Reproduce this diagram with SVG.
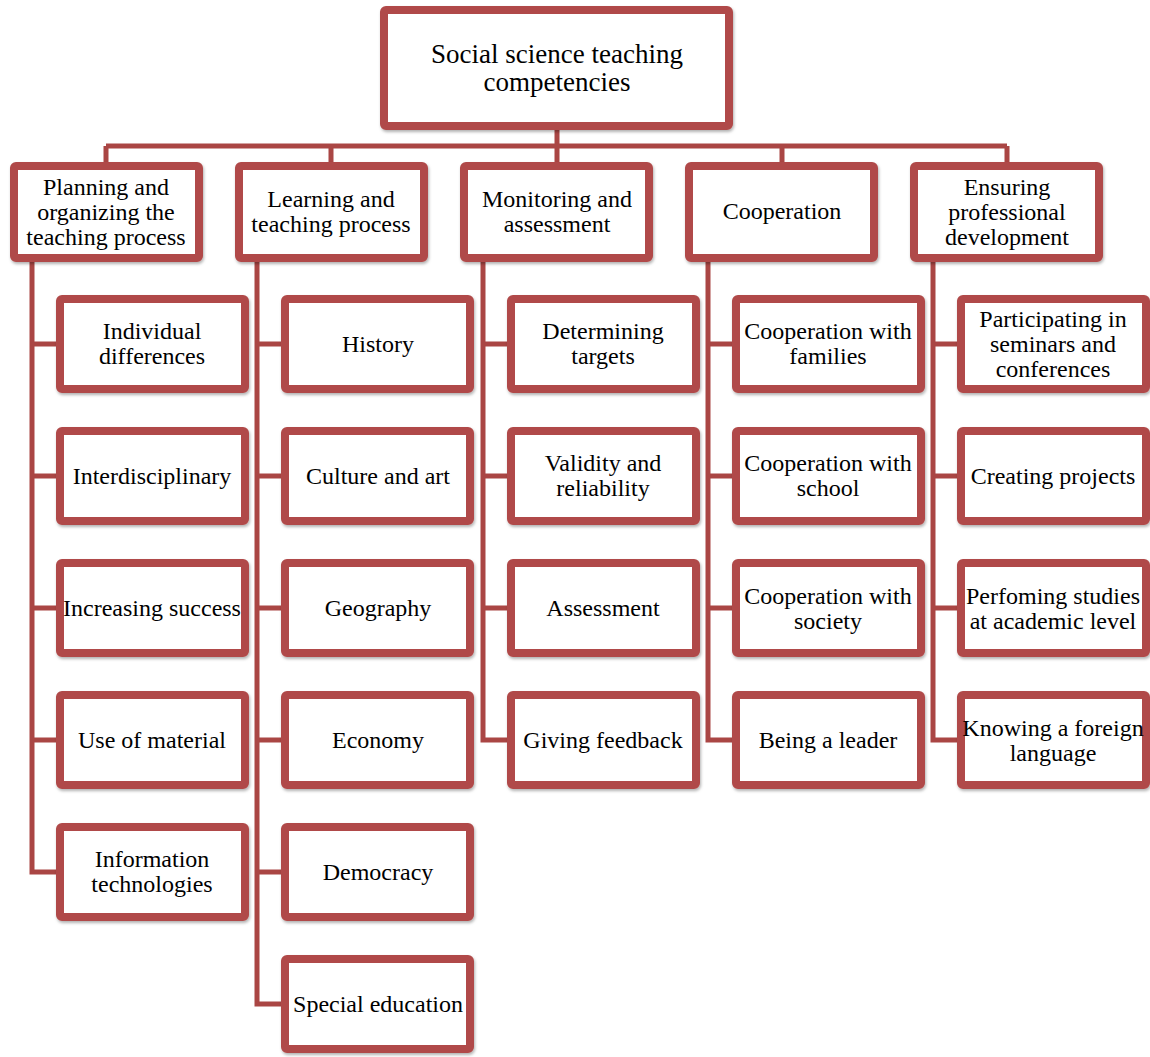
<svg xmlns="http://www.w3.org/2000/svg" width="1150" height="1057" viewBox="0 0 1150 1057">
<style>
.box{fill:#fff;stroke:#B04A48;stroke-width:8;filter:url(#sh)}
.t{font-family:"Liberation Serif","Times New Roman",serif;font-size:24px;fill:#000;text-anchor:middle}
.big{font-size:27px}
.c{fill:none;stroke:#AA4644;stroke-width:5}
</style>
<defs>
<filter id="sh" x="-10%" y="-10%" width="120%" height="130%">
<feDropShadow dx="1" dy="2" stdDeviation="1.5" flood-color="#000" flood-opacity="0.3"/>
</filter>
</defs>
<g id="connectors">
<path class="c" d="M557 130V146M106 146H1007M106 146V162M331 146V162M557 146V162M782 146V162M1007 146V162"/>
<path class="c" d="M32 262V872H56M32 344H56M32 476H56M32 608H56M32 740H56"/>
<path class="c" d="M257 262V1004H281M257 344H281M257 476H281M257 608H281M257 740H281M257 872H281"/>
<path class="c" d="M483 262V740H507M483 344H507M483 476H507M483 608H507"/>
<path class="c" d="M708 262V740H732M708 344H732M708 476H732M708 608H732"/>
<path class="c" d="M933 262V740H957M933 344H957M933 476H957M933 608H957"/>
</g>
<g id="root"><rect class="box" x="384" y="10" width="345" height="116" rx="2"/><text class="t big" x="557" y="63">Social science teaching</text><text class="t big" x="557" y="91">competencies</text></g>
<g id="planning"><rect class="box" x="14" y="166" width="185" height="92" rx="2"/><text class="t" x="106" y="195">Planning and</text><text class="t" x="106" y="220">organizing the</text><text class="t" x="106" y="245">teaching process</text></g>
<g id="learning"><rect class="box" x="239" y="166" width="185" height="92" rx="2"/><text class="t" x="331" y="207">Learning and</text><text class="t" x="331" y="232">teaching process</text></g>
<g id="monitoring"><rect class="box" x="464" y="166" width="185" height="92" rx="2"/><text class="t" x="557" y="207">Monitoring and</text><text class="t" x="557" y="232">assessment</text></g>
<g id="cooperation"><rect class="box" x="689" y="166" width="185" height="92" rx="2"/><text class="t" x="782" y="219">Cooperation</text></g>
<g id="ensuring"><rect class="box" x="914" y="166" width="185" height="92" rx="2"/><text class="t" x="1007" y="195">Ensuring</text><text class="t" x="1007" y="220">professional</text><text class="t" x="1007" y="245">development</text></g>

<g id="p1"><rect class="box" x="60" y="299" width="185" height="90" rx="2"/><text class="t" x="152" y="339">Individual</text><text class="t" x="152" y="364">differences</text></g>
<g id="p2"><rect class="box" x="60" y="431" width="185" height="90" rx="2"/><text class="t" x="152" y="484">Interdisciplinary</text></g>
<g id="p3"><rect class="box" x="60" y="563" width="185" height="90" rx="2"/><text class="t" x="152" y="616">Increasing success</text></g>
<g id="p4"><rect class="box" x="60" y="695" width="185" height="90" rx="2"/><text class="t" x="152" y="748">Use of material</text></g>
<g id="p5"><rect class="box" x="60" y="827" width="185" height="90" rx="2"/><text class="t" x="152" y="867">Information</text><text class="t" x="152" y="892">technologies</text></g>

<g id="l1"><rect class="box" x="285" y="299" width="185" height="90" rx="2"/><text class="t" x="378" y="352">History</text></g>
<g id="l2"><rect class="box" x="285" y="431" width="185" height="90" rx="2"/><text class="t" x="378" y="484">Culture and art</text></g>
<g id="l3"><rect class="box" x="285" y="563" width="185" height="90" rx="2"/><text class="t" x="378" y="616">Geography</text></g>
<g id="l4"><rect class="box" x="285" y="695" width="185" height="90" rx="2"/><text class="t" x="378" y="748">Economy</text></g>
<g id="l5"><rect class="box" x="285" y="827" width="185" height="90" rx="2"/><text class="t" x="378" y="880">Democracy</text></g>
<g id="l6"><rect class="box" x="285" y="959" width="185" height="90" rx="2"/><text class="t" x="378" y="1012">Special education</text></g>

<g id="m1"><rect class="box" x="511" y="299" width="185" height="90" rx="2"/><text class="t" x="603" y="339">Determining</text><text class="t" x="603" y="364">targets</text></g>
<g id="m2"><rect class="box" x="511" y="431" width="185" height="90" rx="2"/><text class="t" x="603" y="471">Validity and</text><text class="t" x="603" y="496">reliability</text></g>
<g id="m3"><rect class="box" x="511" y="563" width="185" height="90" rx="2"/><text class="t" x="603" y="616">Assessment</text></g>
<g id="m4"><rect class="box" x="511" y="695" width="185" height="90" rx="2"/><text class="t" x="603" y="748">Giving feedback</text></g>

<g id="c1"><rect class="box" x="736" y="299" width="185" height="90" rx="2"/><text class="t" x="828" y="339">Cooperation with</text><text class="t" x="828" y="364">families</text></g>
<g id="c2"><rect class="box" x="736" y="431" width="185" height="90" rx="2"/><text class="t" x="828" y="471">Cooperation with</text><text class="t" x="828" y="496">school</text></g>
<g id="c3"><rect class="box" x="736" y="563" width="185" height="90" rx="2"/><text class="t" x="828" y="604">Cooperation with</text><text class="t" x="828" y="629">society</text></g>
<g id="c4"><rect class="box" x="736" y="695" width="185" height="90" rx="2"/><text class="t" x="828" y="748">Being a leader</text></g>

<g id="e1"><rect class="box" x="961" y="299" width="185" height="90" rx="2"/><text class="t" x="1053" y="327">Participating in</text><text class="t" x="1053" y="352">seminars and</text><text class="t" x="1053" y="377">conferences</text></g>
<g id="e2"><rect class="box" x="961" y="431" width="185" height="90" rx="2"/><text class="t" x="1053" y="484">Creating projects</text></g>
<g id="e3"><rect class="box" x="961" y="563" width="185" height="90" rx="2"/><text class="t" x="1053" y="604">Perfoming studies</text><text class="t" x="1053" y="629">at academic level</text></g>
<g id="e4"><rect class="box" x="961" y="695" width="185" height="90" rx="2"/><text class="t" x="1053" y="736">Knowing a foreign</text><text class="t" x="1053" y="761">language</text></g>
</svg>
